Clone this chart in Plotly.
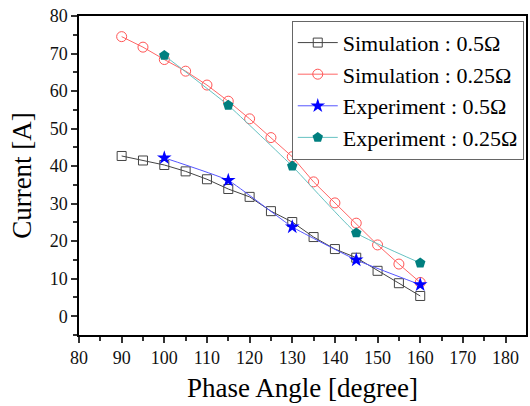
import plotly.graph_objects as go

angles_sim = [90, 95, 100, 105, 110, 115, 120, 125, 130, 135, 140, 145, 150, 155, 160]
sim_05 = [42.7, 41.5, 40.3, 38.6, 36.5, 33.9, 31.8, 28.0, 25.1, 21.1, 17.9, 15.6, 12.1, 8.8, 5.4]
sim_025 = [74.5, 71.7, 68.4, 65.3, 61.6, 57.3, 52.6, 47.6, 42.5, 35.8, 30.2, 24.8, 19.0, 13.9, 9.0]
angles_exp = [100, 115, 130, 145, 160]
exp_05 = [42.2, 36.2, 23.8, 15.0, 8.4]
exp_025 = [69.5, 56.2, 40.0, 22.2, 14.2]

FONT = "Liberation Serif"

fig = go.Figure()
fig.add_trace(go.Scatter(x=angles_sim, y=sim_05, mode="lines+markers", name="Simulation : 0.5Ω",
                         line=dict(color="#444444", width=1),
                         marker=dict(symbol="square-open", size=9, color="#444444", line=dict(width=1))))
fig.add_trace(go.Scatter(x=angles_sim, y=sim_025, mode="lines+markers", name="Simulation : 0.25Ω",
                         line=dict(color="#FF6666", width=1),
                         marker=dict(symbol="circle-open", size=10, color="#FF5555", line=dict(width=1))))
fig.add_trace(go.Scatter(x=angles_exp, y=exp_05, mode="lines+markers", name="Experiment : 0.5Ω",
                         line=dict(color="#5555FF", width=1, shape="spline", smoothing=0.35),
                         marker=dict(symbol="star", size=11, color="#0000FF")))
fig.add_trace(go.Scatter(x=angles_exp, y=exp_025, mode="lines+markers", name="Experiment : 0.25Ω",
                         line=dict(color="#66C2C2", width=1, shape="spline", smoothing=0.35),
                         marker=dict(symbol="pentagon", size=11, color="#007F7F")))

axis_common = dict(showline=True, linecolor="black", linewidth=1.5, mirror=True,
                   ticks="outside", ticklen=6, tickwidth=1.5, tickcolor="#333333",
                   showgrid=False, zeroline=False,
                   tickfont=dict(family=FONT, size=18, color="#111111"))

fig.update_xaxes(range=[80, 184.8], tick0=80, dtick=10,
                 minor=dict(ticks="outside", ticklen=4, dtick=5, tick0=80, tickcolor="#333333", tickwidth=1.5),
                 title=dict(text="Phase Angle [degree]", font=dict(family=FONT, size=27, color="black"), standoff=11),
                 **axis_common)
fig.update_yaxes(range=[-5, 80], tick0=0, dtick=10,
                 minor=dict(ticks="outside", ticklen=4, dtick=5, tick0=0, tickcolor="#333333", tickwidth=1.5),
                 title=dict(text="Current [A]", font=dict(family=FONT, size=27, color="black"), standoff=10),
                 **axis_common)

fig.update_layout(
    width=530, height=406,
    margin=dict(l=79, r=2, t=16, b=71),
    plot_bgcolor="white", paper_bgcolor="white",
    showlegend=True,
    legend=dict(x=0.995, y=0.985, xanchor="right", yanchor="top",
                bordercolor="#666666", borderwidth=1, bgcolor="white",
                font=dict(family=FONT, size=22, color="black"),
                tracegroupgap=0, itemwidth=40),
)

fig.write_html("out.html")
